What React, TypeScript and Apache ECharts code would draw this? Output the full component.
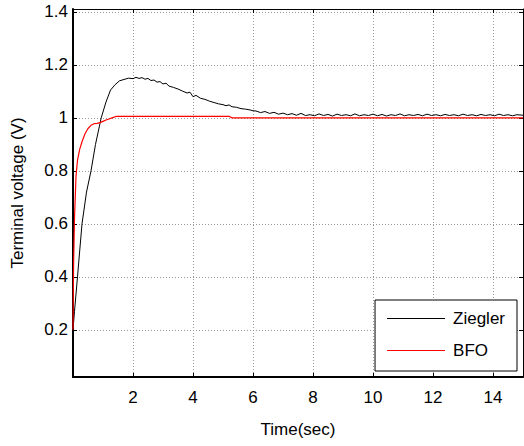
import React, { useEffect, useRef } from "react";
import * as echarts from "echarts";

const zieglerT = [0, 0.05, 0.15, 0.3, 0.45, 0.6, 0.75, 0.94, 1.1, 1.25, 1.4, 1.55, 1.7, 1.85, 2.0, 2.1, 2.2, 2.3, 2.4, 2.5, 2.6, 2.7, 2.8, 2.9, 3.0, 3.1, 3.2, 3.35, 3.5, 3.65, 3.8, 3.9, 4.0, 4.1, 4.25, 4.4, 4.55, 4.7, 4.85, 5.0, 5.1, 5.2, 5.3, 5.45, 5.6, 5.75, 5.9, 6.0, 6.1, 6.25, 6.4, 6.55, 6.7, 6.85, 7.0, 7.15, 7.3, 7.45, 7.6, 7.75, 7.9, 8.05, 8.2, 8.35, 8.5, 8.65, 8.8, 8.95, 9.1, 9.25, 9.4, 9.55, 9.7, 9.85, 10.0, 10.15, 10.3, 10.45, 10.6, 10.75, 10.9, 11.05, 11.2, 11.35, 11.5, 11.65, 11.8, 11.95, 12.1, 12.25, 12.4, 12.55, 12.7, 12.85, 13.0, 13.15, 13.3, 13.45, 13.6, 13.75, 13.9, 14.05, 14.2, 14.35, 14.5, 14.65, 14.8, 15.0];
const zieglerV = [0.2, 0.27, 0.4, 0.6, 0.72, 0.8, 0.9, 1.0, 1.06, 1.105, 1.125, 1.14, 1.145, 1.15, 1.148, 1.153, 1.149, 1.152, 1.146, 1.149, 1.141, 1.143, 1.135, 1.137, 1.128, 1.131, 1.12, 1.115, 1.109, 1.101, 1.094, 1.097, 1.08, 1.085, 1.074, 1.07, 1.063, 1.058, 1.053, 1.05, 1.046, 1.049, 1.042, 1.04, 1.035, 1.033, 1.03, 1.027, 1.026, 1.02, 1.024, 1.017, 1.021, 1.014, 1.018, 1.012, 1.016, 1.01, 1.017, 1.009, 1.012, 1.008, 1.015, 1.009, 1.013, 1.007, 1.014, 1.009, 1.012, 1.008, 1.015, 1.008, 1.012, 1.009, 1.014, 1.008, 1.013, 1.007, 1.012, 1.009, 1.015, 1.008, 1.012, 1.009, 1.013, 1.008, 1.014, 1.009, 1.012, 1.008, 1.013, 1.009, 1.012, 1.008, 1.014, 1.009, 1.012, 1.008, 1.013, 1.009, 1.012, 1.008, 1.014, 1.009, 1.012, 1.008, 1.012, 1.01];

const bfoT = [0, 0.02, 0.05, 0.1, 0.15, 0.22, 0.3, 0.4, 0.5, 0.6, 0.7, 0.8, 0.9, 1.0, 1.1, 1.2, 1.3, 1.45, 5.2, 5.3, 15.0];
const bfoV = [0.2, 0.45, 0.62, 0.78, 0.84, 0.88, 0.91, 0.94, 0.96, 0.972, 0.978, 0.979, 0.982, 0.987, 0.992, 0.996, 1.0, 1.006, 1.006, 1.0, 1.0];

const yTicks = [0.2, 0.4, 0.6, 0.8, 1.0, 1.2, 1.4];
const xTicks = [2, 4, 6, 8, 10, 12, 14];

const FONT = "'Liberation Sans', Arial, sans-serif";

export default function App() {
  const ref = useRef<HTMLDivElement>(null);
  useEffect(() => {
    if (!ref.current) return;
    const chart = echarts.init(ref.current, undefined, { renderer: "svg" });
    const grid = { left: 73, right: 1, top: 9, bottom: 69 };
    const gridLine = { show: true, lineStyle: { color: "#9a9a9a", type: [1, 2] as any, width: 1 } };
    chart.setOption({
      animation: false,
      backgroundColor: "#fff",
      textStyle: { fontFamily: FONT },
      grid,
      legend: {
        data: [
          { name: "Ziegler", icon: "rect", itemStyle: { color: "#000" } },
          { name: "BFO", icon: "rect", itemStyle: { color: "#ff0000" } },
        ],
        orient: "vertical",
        right: 7,
        bottom: 75,
        backgroundColor: "#fff",
        borderColor: "#000",
        borderWidth: 1,
        padding: [10, 12, 12, 12],
        itemGap: 15,
        itemWidth: 58,
        itemHeight: 1,
        textStyle: { fontSize: 17, color: "#000", fontFamily: FONT, padding: [0, 0, 0, 3] },
      },
      xAxis: [
        {
          type: "value",
          min: 0,
          max: 15,
          name: "Time(sec)",
          nameLocation: "middle",
          nameGap: 44,
          nameTextStyle: { fontSize: 17, color: "#000", fontFamily: FONT },
          axisLine: { show: true, onZero: false, lineStyle: { color: "#000", width: 2 } },
          axisTick: { show: true, inside: true, length: 4, customValues: xTicks, lineStyle: { color: "#000" } },
          axisLabel: { customValues: xTicks, fontSize: 17, color: "#000", margin: 12, fontFamily: FONT },
          splitLine: gridLine,
        },
        {
          type: "value",
          position: "top",
          min: 0,
          max: 15,
          axisLine: { show: true, onZero: false, lineStyle: { color: "#000", width: 1 } },
          axisTick: { show: true, inside: true, length: 4, customValues: xTicks, lineStyle: { color: "#000" } },
          axisLabel: { show: false },
          splitLine: { show: false },
        },
      ],
      yAxis: [
        {
          type: "value",
          min: 0.022,
          max: 1.411,
          name: "Terminal voltage (V)",
          nameLocation: "middle",
          nameGap: 47,
          nameTextStyle: { fontSize: 17, color: "#000", fontFamily: FONT },
          axisLine: { show: true, onZero: false, lineStyle: { color: "#000", width: 2 } },
          axisTick: { show: true, inside: true, length: 4, customValues: yTicks, lineStyle: { color: "#000" } },
          axisLabel: {
            customValues: yTicks,
            fontSize: 17,
            color: "#000",
            margin: 5,
            fontFamily: FONT,
            formatter: (v: number) => String(Math.round(v * 10) / 10),
          },
          splitLine: gridLine,
        },
        {
          type: "value",
          position: "right",
          min: 0.022,
          max: 1.411,
          axisLine: { show: true, onZero: false, lineStyle: { color: "#000", width: 1 } },
          axisTick: { show: true, inside: true, length: 4, customValues: yTicks, lineStyle: { color: "#000" } },
          axisLabel: { show: false },
          splitLine: { show: false },
        },
      ],
      series: [
        {
          name: "Ziegler",
          type: "line",
          symbol: "none",
          data: zieglerT.map((t, i) => [t, zieglerV[i]]),
          lineStyle: { color: "#000", width: 1 },
          itemStyle: { color: "#000" },
        },
        {
          name: "BFO",
          type: "line",
          symbol: "none",
          data: bfoT.map((t, i) => [t, bfoV[i]]),
          lineStyle: { color: "#ff0000", width: 1.2 },
          itemStyle: { color: "#ff0000" },
        },
      ],
    });
    return () => chart.dispose();
  }, []);
  return <div ref={ref} style={{ width: 524, height: 446, position: "absolute", left: 0, top: 0 }} />;
}
